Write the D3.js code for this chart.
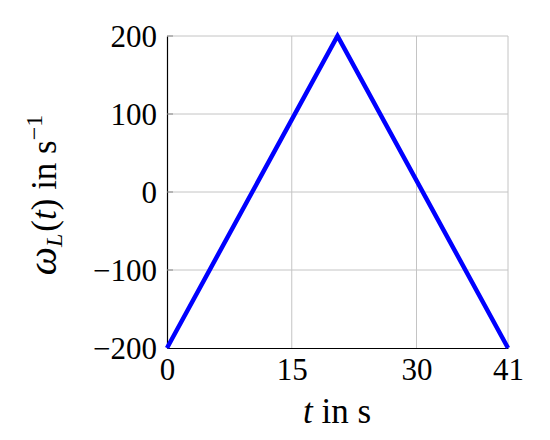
<!DOCTYPE html>
<html>
<head>
<meta charset="utf-8">
<script src="https://cdn.jsdelivr.net/npm/d3@7"></script>
<style>
  body { margin: 0; background: #fff; }
  svg text { font-family: "Liberation Serif", "DejaVu Serif", serif; fill: #000; }
</style>
</head>
<body>
<svg id="chart" width="550" height="440"></svg>
<script>
// data
const times = [0, 20.5, 41];
const omega = [-200, 200, -200];
const xTicks = [0, 15, 30, 41];
const yTicks = [-200, -100, 0, 100, 200];

const margin = { top: 36, right: 42, bottom: 92, left: 167 };
const width = 550 - margin.left - margin.right;
const height = 440 - margin.top - margin.bottom;

const svg = d3.select('#chart');
const g = svg.append('g')
	.attr('transform', 'translate(' + margin.left + ',' + margin.top + ')');

const x = d3.scaleLinear().domain([0, 41]).range([0, width]);
const y = d3.scaleLinear().domain([-200, 200]).range([height, 0]);

// grid
g.append('g').selectAll('line.vgrid')
	.data(xTicks.slice(1))
	.join('line')
	.attr('x1', d => x(d)).attr('x2', d => x(d))
	.attr('y1', 0).attr('y2', height)
	.attr('stroke', '#c4c4c4').attr('stroke-width', 1);

g.append('g').selectAll('line.hgrid')
	.data(yTicks.slice(1))
	.join('line')
	.attr('x1', 0).attr('x2', width)
	.attr('y1', d => y(d)).attr('y2', d => y(d))
	.attr('stroke', '#c4c4c4').attr('stroke-width', 1);

// axes
const fontSize = 31;
const labelSize = 35;

const xAxis = g.append('g')
	.attr('transform', 'translate(0,' + height + ')')
	.call(d3.axisBottom(x).tickValues(xTicks).tickSize(0).tickPadding(11).tickFormat(d3.format('d')));
xAxis.select('.domain').attr('stroke', '#000').attr('stroke-width', 1.2);
xAxis.selectAll('text')
	.attr('font-size', fontSize)
	.attr('dy', '0.68em')
	.style('font-family', '"Liberation Serif", serif');

const yAxis = g.append('g')
	.call(d3.axisLeft(y).tickValues(yTicks).tickSize(0).tickPadding(10)
		.tickFormat(d => d < 0 ? '\u2212' + Math.abs(d) : d));
yAxis.select('.domain').attr('stroke', '#000').attr('stroke-width', 1.2);
yAxis.selectAll('text')
	.attr('font-size', fontSize)
	.attr('dy', '0.33em')
	.style('font-family', '"Liberation Serif", serif');

// small inward ticks on left axis
g.append('g').selectAll('line')
	.data(yTicks.slice(1))
	.join('line')
	.attr('x1', 0).attr('x2', 6)
	.attr('y1', d => y(d)).attr('y2', d => y(d))
	.attr('stroke', '#888').attr('stroke-width', 1);

// the line
const pts = times.map((t, i) => [t, omega[i]]);
g.append('path')
	.datum(pts)
	.attr('fill', 'none')
	.attr('stroke', '#0000ff')
	.attr('stroke-width', 4.5)
	.attr('stroke-linejoin', 'miter')
	.attr('d', d3.line().x(d => x(d[0])).y(d => y(d[1])));

// axis labels
svg.append('text')
	.attr('x', 337)
	.attr('y', 423)
	.attr('text-anchor', 'middle')
	.attr('font-size', labelSize)
	.html('<tspan font-style="italic">t</tspan> in s');

const yl = svg.append('text')
	.attr('transform', 'translate(56,195) rotate(-90)')
	.attr('text-anchor', 'middle')
	.attr('font-size', labelSize);
yl.append('tspan').attr('font-style', 'italic').attr('font-size', 40).text('\u03c9');
yl.append('tspan').attr('font-style', 'italic').attr('font-size', 24).attr('dy', 6).text('L');
yl.append('tspan').attr('dy', -6).attr('dx', 2).text('(');
yl.append('tspan').attr('font-style', 'italic').text('t');
yl.append('tspan').text(') in s');
yl.append('tspan').attr('font-size', 24).attr('dy', -14).text('\u22121');
</script>
</body>
</html>
